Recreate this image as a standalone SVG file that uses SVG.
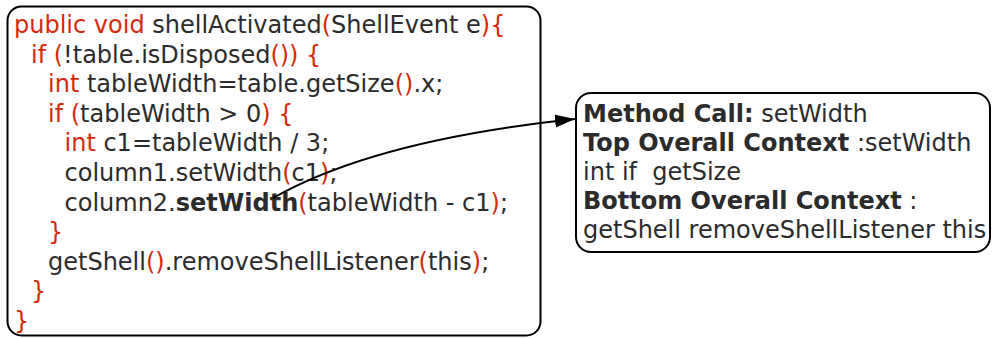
<svg xmlns="http://www.w3.org/2000/svg" width="992" height="338" viewBox="0 0 992 338">
<style>
  text { font-family: "DejaVu Sans", Verdana, sans-serif; font-size: 24px; fill: #2b2b2b; white-space: pre; }
  .r { fill: #d42a0c; }
  .b { font-weight: bold; }
  .box { fill: #ffffff; stroke: #000000; stroke-width: 2; }
  .conn { fill: none; stroke: #000000; stroke-width: 2; }
</style>
<defs>
  <marker id="arrow" markerUnits="userSpaceOnUse" markerWidth="22" markerHeight="14" refX="20" refY="6.5" orient="auto">
    <path d="M0,0 L20,6.5 L0,13 z" fill="#000000"/>
  </marker>
</defs>
<rect width="992" height="338" fill="#ffffff"/>
<g id="code">
  <rect class="box" x="7.5" y="6.5" width="533" height="329" rx="14" ry="14"/>
  <text x="14" y="33"><tspan class="r">public void</tspan> shellActivated<tspan class="r">(</tspan>ShellEvent e<tspan class="r">){</tspan></text>
  <text x="31" y="62.6"><tspan class="r">if (</tspan>!table.isDisposed<tspan class="r">()) {</tspan></text>
  <text x="48" y="92.2"><tspan class="r">int</tspan> tableWidth=table.getSize<tspan class="r">()</tspan>.x;</text>
  <text x="48" y="121.8"><tspan class="r">if (</tspan>tableWidth &gt; 0<tspan class="r">) {</tspan></text>
  <text x="64.5" y="151.4"><tspan class="r">int</tspan> c1=tableWidth / 3;</text>
  <text x="64.5" y="181">column1.setWidth<tspan class="r">(</tspan>c1<tspan class="r">)</tspan>;</text>
  <text x="64.5" y="210.6">column2.<tspan class="b">setWidth</tspan><tspan class="r">(</tspan>tableWidth - c1<tspan class="r">)</tspan>;</text>
  <text x="48" y="240.2" class="r">}</text>
  <text x="48" y="269.8">getShell<tspan class="r">()</tspan>.removeShellListener<tspan class="r">(</tspan>this<tspan class="r">)</tspan>;</text>
  <text x="31" y="299.4" class="r">}</text>
  <text x="14" y="329" class="r">}</text>
</g>
<g id="context">
  <rect class="box" x="576" y="93" width="414" height="159" rx="15" ry="15"/>
  <text x="583" y="122"><tspan class="b">Method Call:</tspan> setWidth</text>
  <text x="583" y="151"><tspan class="b">Top Overall Context</tspan> :setWidth</text>
  <text x="583" y="180">int if  getSize</text>
  <text x="583" y="209"><tspan class="b">Bottom Overall Context</tspan> :</text>
  <text x="583" y="238">getShell removeShellListener this</text>
</g>
<g id="connectors">
  <path class="conn" d="M273,198 Q375,140 575,119" marker-end="url(#arrow)"/>
</g>
</svg>
